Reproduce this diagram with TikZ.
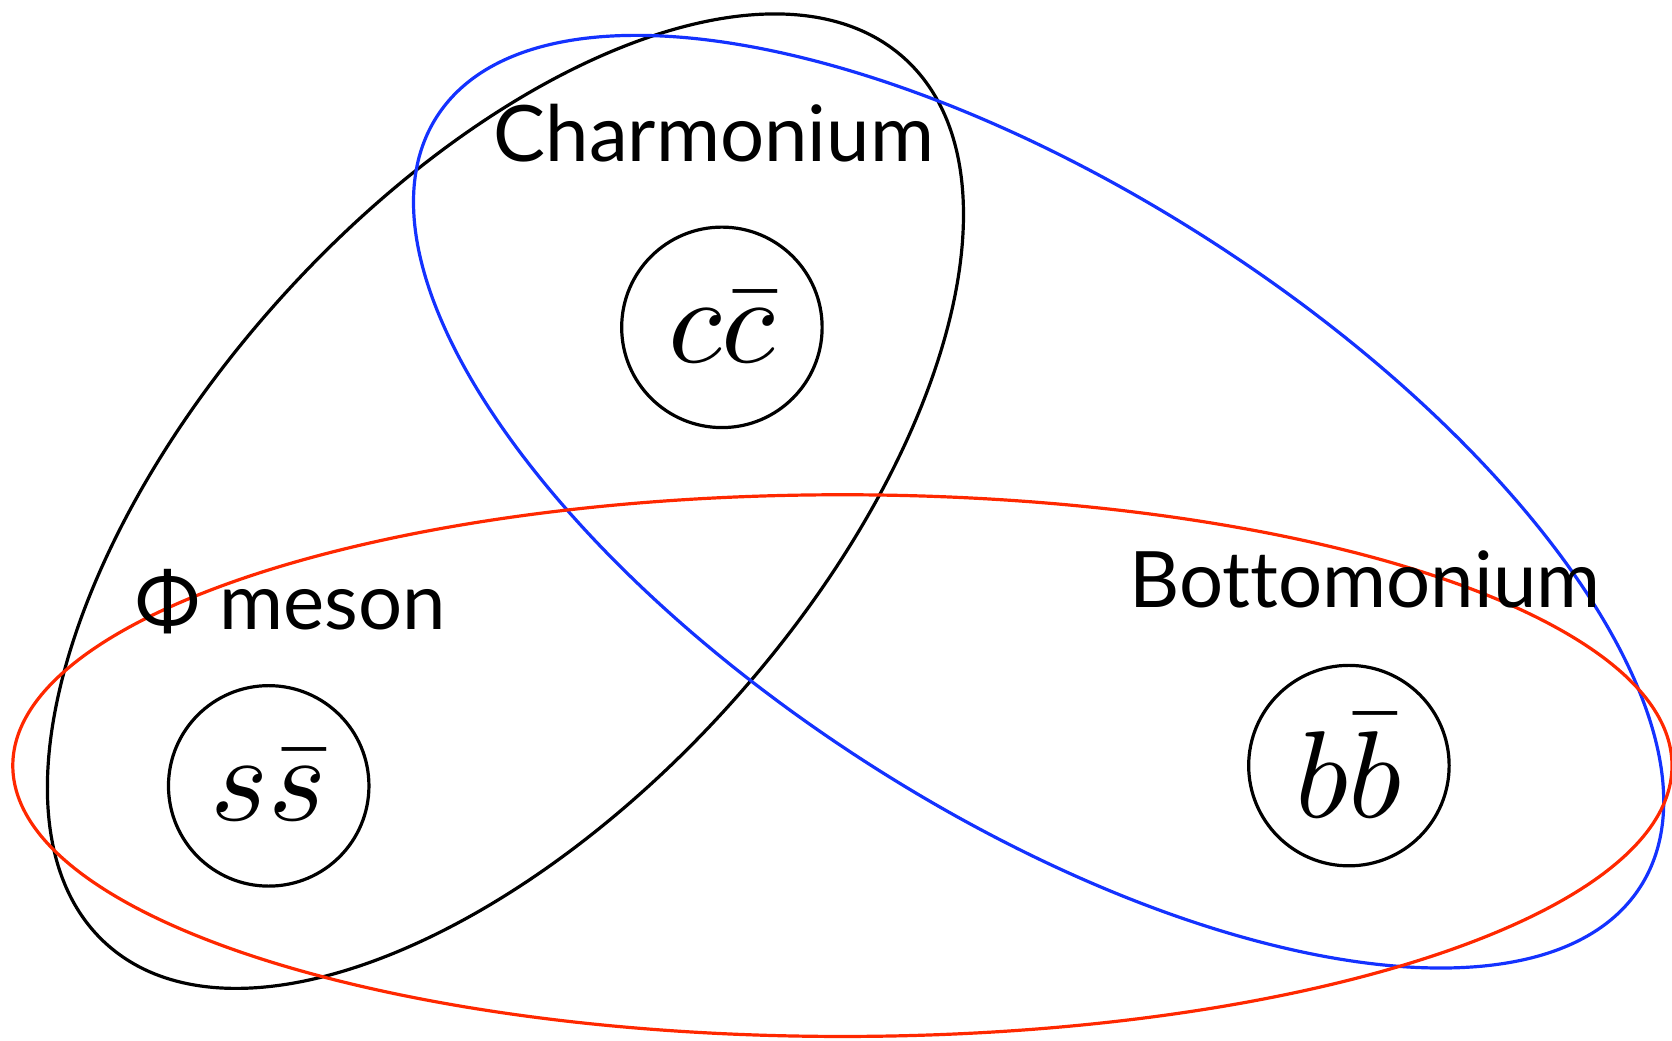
\documentclass[tikz,border=0pt]{standalone}
\usepackage{graphicx}
\usepackage{fontspec}
\setmainfont[Ligatures=NoCommon]{Lato}
\definecolor{ellred}{RGB}{255,40,0}
\definecolor{ellblue}{RGB}{20,50,255}
\begin{document}
\begin{tikzpicture}[x=1pt,y=1pt,
  ring/.style={line width=3pt},
  quark/.style={circle,draw,line width=3pt,minimum size=188pt,inner sep=0pt},
  label/.style={anchor=base,inner sep=0pt,font=\fontsize{73}{73}\selectfont}]
\useasboundingbox (0,0) rectangle (1568,976);
% ellipses
\draw[ring,black] (474,506) ellipse[x radius=559,y radius=284,rotate=48];
\draw[ring,ellblue] (974,505.5) ellipse[x radius=670,y radius=293,rotate=-32.6];
\draw[ring,ellred] (790,258) ellipse[x radius=778,y radius=254];
% quark circles
\node[quark] (cc) at (677,669) {\scalebox{11.6}{$c\bar{c}$}};
\node[quark] (ss) at (252,239) {\scalebox{11.6}{$s\bar{s}$}};
\node[quark] (bb) at (1265,258) {\scalebox{11.6}{$b\bar{b}$}};
% labels
\node[label] (lc) at (669.5,825) {Charmonium};
\node[label] (ls) at (272.5,386) {Φ meson};
\node[label] (lb) at (1280,406) {Bottomonium};
\end{tikzpicture}
\end{document}
